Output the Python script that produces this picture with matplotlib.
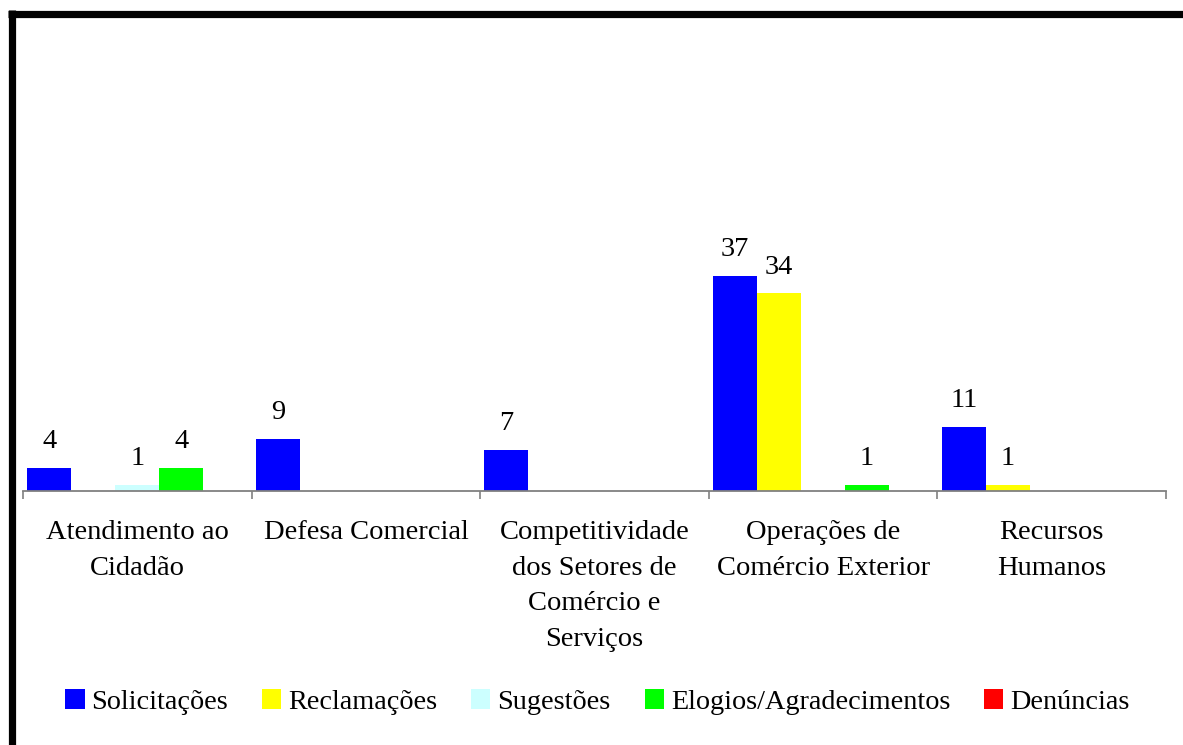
import matplotlib.pyplot as plt
import numpy as np
from matplotlib.lines import Line2D

categories = ["Atendimento ao\nCidadão", "Defesa Comercial",
              "Competitividade\ndos Setores de\nComércio e\nServiços",
              "Operações de\nComércio Exterior", "Recursos\nHumanos"]
series_names = ["Solicitações", "Reclamações", "Sugestões",
                "Elogios/Agradecimentos", "Denúncias"]
solicitacoes = [4, 9, 7, 37, 11]
reclamacoes = [0, 0, 0, 34, 1]
sugestoes = [1, 0, 0, 0, 0]
elogios = [4, 0, 0, 1, 0]
denuncias = [0, 0, 0, 0, 0]
colors = ["#0000ff", "#ffff00", "#ccffff", "#00ff00", "#ff0000"]

plt.rcParams["font.family"] = ["Liberation Serif", "DejaVu Serif"]

W, H = 1183, 745
fig = plt.figure(figsize=(W / 100, H / 100), dpi=100)
# axes in pixel terms: x 23..1166, baseline at y=491, top at y=17
ax = fig.add_axes([23 / W, 1 - 491 / H, (1166 - 23) / W, (491 - 17) / H])

values = [solicitacoes, reclamacoes, sugestoes, elogios, denuncias]
n = len(series_names)
x = np.arange(len(categories))
bw = 0.9625 / n
for i, (vals, name, c) in enumerate(zip(values, series_names, colors)):
    pos = x - 0.48125 + bw * (i + 0.5)
    bars = ax.bar(pos, vals, width=bw, color=c, label=name, linewidth=0)
    for b, v in zip(bars, vals):
        if v > 0:
            ax.annotate(str(v), (b.get_x() + b.get_width() / 2, v),
                        xytext=(0, 10), textcoords="offset points",
                        ha="center", va="bottom", fontsize=20.5)

ax.set_xlim(-0.5, len(categories) - 0.5)
ax.set_ylim(0, (491 - 17) / 5.81)
for s in ["left", "right", "top"]:
    ax.spines[s].set_visible(False)
ax.spines["bottom"].set_color("#808080")
ax.spines["bottom"].set_linewidth(1.3)
ax.set_yticks([])
ax.set_xticks(x)
ax.set_xticklabels(categories, fontsize=20.5, linespacing=1.55)
ax.tick_params(axis="x", which="major", length=0, pad=21)
ax.set_xticks(np.arange(len(categories) + 1) - 0.5, minor=True)
ax.tick_params(axis="x", which="minor", length=6, color="#808080", width=1.2)

fig.legend(loc="center", bbox_to_anchor=(597.5 / W, 1 - 702 / H), ncol=5,
           frameon=False, fontsize=20.3, handlelength=0.68, handleheight=0.68,
           handletextpad=0.25, columnspacing=1.2)

# thick black frame on the left and top
fig.add_artist(Line2D([11.5 / W, 11.5 / W], [0, 1 - 10 / H],
                      transform=fig.transFigure, color="black", lw=5.2,
                      solid_capstyle="butt"))
fig.add_artist(Line2D([8 / W, 1], [1 - 13.5 / H, 1 - 13.5 / H],
                      transform=fig.transFigure, color="black", lw=5.2,
                      solid_capstyle="butt"))

fig.savefig("out.png", dpi=100)
